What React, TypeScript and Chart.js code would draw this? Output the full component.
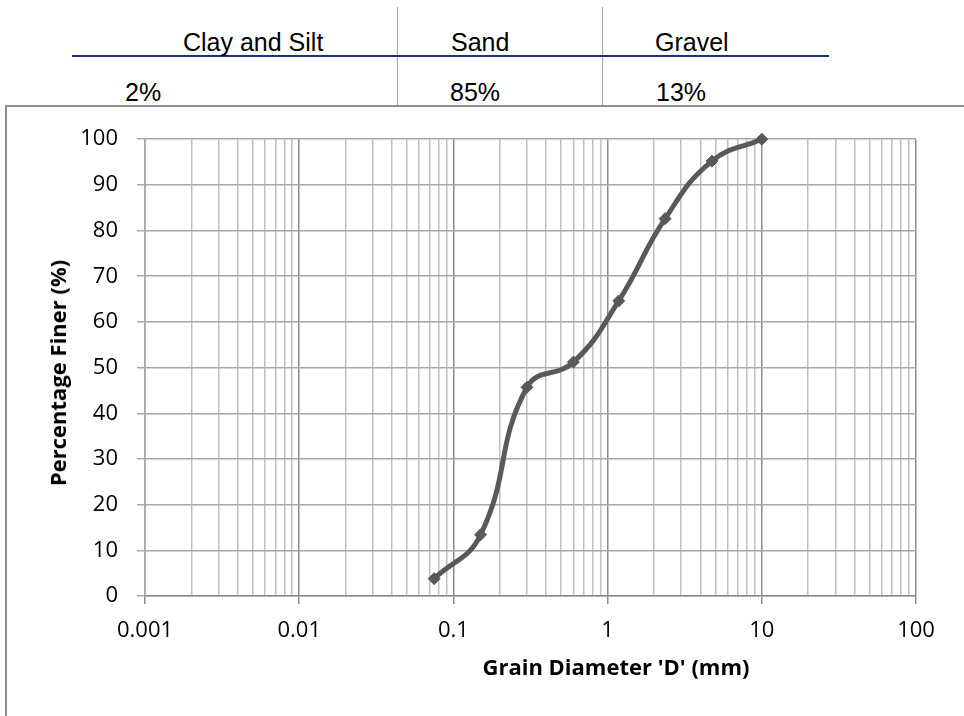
import { useEffect, useRef } from 'react';
import { Chart, registerables } from 'chart.js';

Chart.register(...registerables);

// Grain size distribution data
const sieveSizes = [0.075, 0.15, 0.3, 0.6, 1.18, 2.36, 4.75, 10];
const percentFiner = [3.8, 13.4, 45.7, 51.2, 64.6, 82.6, 95.2, 100];

// Log-axis ticks
const decadeValues = [0.001, 0.01, 0.1, 1, 10, 100];
const decadeLabels = ['0.001', '0.01', '0.1', '1', '10', '100'];
const minorMultipliers = [2, 3, 4, 5, 6, 7, 8, 9];

// Summary table
const tableHeaders = ['Clay and Silt', 'Sand', 'Gravel'];
const tablePercents = ['2%', '85%', '13%'];

const xTitle = "Grain Diameter 'D' (mm)";
const yTitle = 'Percentage Finer (%)';

const headerLeft = [183, 451, 655];
const percentLeft = [125, 450, 656];

export default function App() {
  const ref = useRef<HTMLCanvasElement>(null);

  useEffect(() => {
    const tickList: { value: number; major: boolean }[] = [];
    decadeValues.forEach((d, i) => {
      tickList.push({ value: d, major: true });
      if (i < decadeValues.length - 1) {
        minorMultipliers.forEach((m) => tickList.push({ value: d * m, major: false }));
      }
    });

    const chart = new Chart(ref.current!, {
      type: 'line',
      data: {
        datasets: [
          {
            data: sieveSizes.map((x, i) => ({ x, y: percentFiner[i] })),
            borderColor: '#595959',
            backgroundColor: '#595959',
            borderWidth: 5,
            pointStyle: 'rectRot',
            pointRadius: 6,
            pointBorderWidth: 1,
            tension: 0.45,
            fill: false,
            clip: false,
          } as any,
        ],
      },
      options: {
        animation: false,
        responsive: false,
        maintainAspectRatio: false,
        layout: { padding: { top: 29, right: 48, left: 0, bottom: 0 } },
        plugins: { legend: { display: false }, tooltip: { enabled: false } },
        scales: {
          x: {
            type: 'logarithmic',
            min: 0.001,
            max: 100,
            afterBuildTicks: (scale: any) => {
              scale.ticks = tickList.map((t) => ({ ...t }));
            },
            afterFit: (scale: any) => {
              scale.height = 120;
            },
            ticks: {
              autoSkip: false,
              maxRotation: 0,
              minRotation: 0,
              padding: 14,
              color: '#000',
              font: { family: 'Open Sans', size: 22 },
              callback: (value: any) => {
                const idx = decadeValues.indexOf(Number(value));
                return idx >= 0 ? decadeLabels[idx] : '';
              },
            },
            grid: {
              color: (c: any) => (c.tick && c.tick.major ? '#8c8c8c' : '#bfbfbf'),
              lineWidth: 1.5,
              tickLength: 8,
              tickColor: (c: any) => (c.tick && c.tick.major ? '#8c8c8c' : 'rgba(0,0,0,0)'),
            },
            border: { color: '#8c8c8c', width: 1.5 },
          },
          y: {
            min: 0,
            max: 100,
            afterFit: (scale: any) => {
              scale.width = 138;
            },
            ticks: {
              stepSize: 10,
              padding: 19,
              color: '#000',
              font: { family: 'Open Sans', size: 22 },
            },
            grid: { color: '#a8a8a8', lineWidth: 1.5, tickLength: 8 },
            border: { color: '#a8a8a8', width: 1.5 },
          },
        },
      },
    });
    return () => chart.destroy();
  }, []);

  const textBase: any = {
    position: 'absolute',
    fontFamily: '"Liberation Sans", Arial, sans-serif',
    fontSize: 25,
    lineHeight: '25px',
    color: '#000',
    whiteSpace: 'nowrap',
  };

  const titleBase: any = {
    position: 'absolute',
    fontFamily: '"Open Sans", sans-serif',
    fontWeight: 700,
    fontSize: 22,
    color: '#000',
    whiteSpace: 'nowrap',
  };

  return (
    <div
      style={{
        position: 'fixed',
        left: 0,
        top: 0,
        width: 964,
        height: 716,
        overflow: 'hidden',
        background: '#fff',
      }}
    >
      {/* table lines */}
      <div style={{ position: 'absolute', left: 396.5, top: 7, width: 1.4, height: 99, background: '#a6a6a6' }} />
      <div style={{ position: 'absolute', left: 601.5, top: 7, width: 1.4, height: 99, background: '#a6a6a6' }} />
      <div style={{ position: 'absolute', left: 72, top: 55, width: 757, height: 2, background: '#1f2d88' }} />
      {tableHeaders.map((t, i) => (
        <div key={'h' + i} style={{ ...textBase, left: headerLeft[i], top: 30 }}>
          {t}
        </div>
      ))}
      {tablePercents.map((t, i) => (
        <div key={'p' + i} style={{ ...textBase, left: percentLeft[i], top: 80 }}>
          {t}
        </div>
      ))}
      {/* chart frame */}
      <div
        style={{
          position: 'absolute',
          left: 5,
          top: 105,
          width: 1000,
          height: 700,
          borderLeft: '2px solid #8e8e8e',
          borderTop: '2px solid #8e8e8e',
        }}
      />
      <canvas
        ref={ref}
        width={957}
        height={609}
        style={{ position: 'absolute', left: 7, top: 107, width: 957, height: 609 }}
      />
      <div style={{ ...titleBase, left: 616, top: 666, transform: 'translate(-50%, -50%)' }}>{xTitle}</div>
      <div style={{ ...titleBase, left: 57, top: 373, transform: 'translate(-50%, -50%) rotate(-90deg)' }}>
        {yTitle}
      </div>
    </div>
  );
}
